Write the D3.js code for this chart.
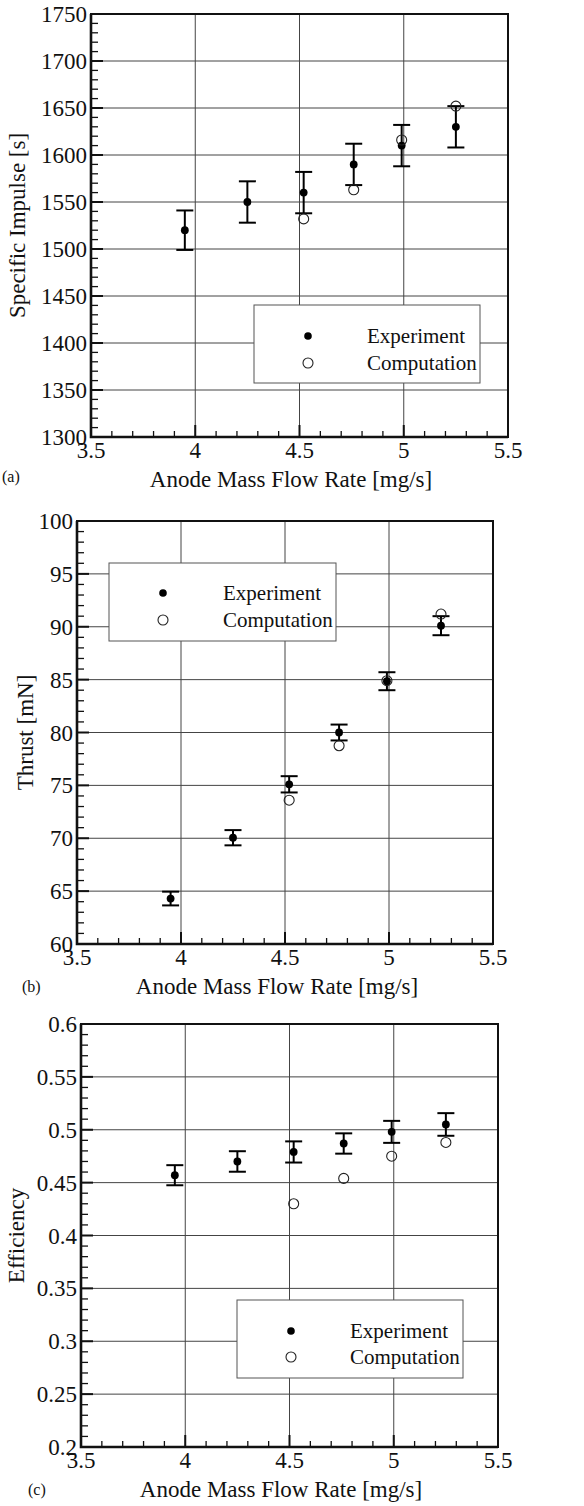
<!DOCTYPE html>
<html>
<head>
<meta charset="utf-8">
<script src="https://cdn.jsdelivr.net/npm/d3@7"></script>
<style>
  body { margin: 0; background: #fff; }
</style>
</head>
<body>
<div id="chart"></div>
<script>
// mass flow rates (mg/s)
const expFlow = [3.95, 4.25, 4.52, 4.76, 4.99, 5.25];
const compFlow = [4.52, 4.76, 4.99, 5.25];

// (a) specific impulse [s]
const ispExp = [1520, 1550, 1560, 1590, 1610, 1630];
const ispErr = [21, 22, 22, 22, 22, 22];
const ispComp = [1532, 1563, 1616, 1652];

// (b) thrust [mN]
const thrustExp = [64.3, 70.05, 75.1, 80.0, 84.85, 90.1];
const thrustErr = [0.65, 0.72, 0.77, 0.75, 0.85, 0.9];
const thrustComp = [73.6, 78.75, 84.9, 91.2];

// (c) efficiency
const effExp = [0.457, 0.470, 0.479, 0.487, 0.498, 0.505];
const effErr = [0.0095, 0.0097, 0.010, 0.0096, 0.0104, 0.0107];
const effComp = [0.430, 0.454, 0.475, 0.488];

const xTicks = [3.5, 4, 4.5, 5, 5.5];
const legendLabels = ["Experiment", "Computation"];

const FONT = "'Liberation Serif', 'Times New Roman', Times, serif";

const svg = d3.select("#chart").append("svg")
    .attr("width", 584)
    .attr("height", 1506)
    .attr("font-family", FONT);

const panels = [
  { tag: "(a)", yLabel: "Specific Impulse [s]", exp: ispExp, err: ispErr, comp: ispComp,
    yDomain: [1300, 1750], yMajor: 50, yMinor: 10, fmt: d => d,
    box: { left: 91, right: 508, top: 14, bottom: 437 },
    yLabelX: 25, tagPos: [2, 482],
    legend: { x0: 254, x1: 480, y0: 305, y1: 383, mx: 308, tx: 367, y: [336, 363] } },
  { tag: "(b)", yLabel: "Thrust [mN]", exp: thrustExp, err: thrustErr, comp: thrustComp,
    yDomain: [60, 100], yMajor: 5, yMinor: 1, fmt: d => d,
    box: { left: 77, right: 493, top: 521, bottom: 944 },
    yLabelX: 33, tagPos: [22, 992],
    legend: { x0: 109, x1: 336, y0: 563, y1: 641, mx: 163, tx: 223, y: [593, 620] } },
  { tag: "(c)", yLabel: "Efficiency", exp: effExp, err: effErr, comp: effComp,
    yDomain: [0.2, 0.6], yMajor: 0.05, yMinor: 0.01, fmt: d => +d.toFixed(2),
    box: { left: 81, right: 498, top: 1024, bottom: 1447 },
    yLabelX: 24, tagPos: [28, 1495],
    legend: { x0: 237, x1: 463, y0: 1300, y1: 1378, mx: 291, tx: 350, y: [1331, 1357] } }
];

function steps(lo, hi, step) {
  const n = Math.round((hi - lo) / step);
  return d3.range(n + 1).map(i => +(lo + i * step).toFixed(6));
}

function txt(sel) {
  return sel.attr("font-family", FONT).attr("fill", "#111");
}

panels.forEach(p => {
  const b = p.box;
  const x = d3.scaleLinear().domain([3.5, 5.5]).range([b.left, b.right]);
  const y = d3.scaleLinear().domain(p.yDomain).range([b.bottom, b.top]);
  const g = svg.append("g");

  const yMajors = steps(p.yDomain[0], p.yDomain[1], p.yMajor);
  const yMinors = steps(p.yDomain[0], p.yDomain[1], p.yMinor);
  const xMinors = steps(3.5, 5.5, 0.1);

  // grid
  g.selectAll(".gx").data(xTicks.slice(1, -1)).enter().append("line")
      .attr("x1", d => x(d)).attr("x2", d => x(d))
      .attr("y1", b.top).attr("y2", b.bottom)
      .attr("stroke", "#444").attr("stroke-width", 1);
  g.selectAll(".gy").data(yMajors.slice(1, -1)).enter().append("line")
      .attr("y1", d => y(d)).attr("y2", d => y(d))
      .attr("x1", b.left).attr("x2", b.right)
      .attr("stroke", "#444").attr("stroke-width", 1);

  // minor / major ticks, inside the frame
  g.selectAll(".ty").data(yMinors).enter().append("line")
      .attr("x1", b.left).attr("x2", d => b.left + (yMajors.includes(d) ? 12 : 7))
      .attr("y1", d => y(d)).attr("y2", d => y(d))
      .attr("stroke", "#111").attr("stroke-width", d => yMajors.includes(d) ? 2 : 1.3);
  g.selectAll(".tx").data(xMinors).enter().append("line")
      .attr("y1", b.bottom).attr("y2", d => b.bottom - (xTicks.includes(d) ? 12 : 6))
      .attr("x1", d => x(d)).attr("x2", d => x(d))
      .attr("stroke", "#111").attr("stroke-width", d => xTicks.includes(d) ? 2 : 1.3);

  // frame
  g.append("rect")
      .attr("x", b.left).attr("y", b.top)
      .attr("width", b.right - b.left).attr("height", b.bottom - b.top)
      .attr("fill", "none").attr("stroke", "#111").attr("stroke-width", 2);
  g.append("path")
      .attr("d", `M${b.left},${b.top}V${b.bottom}H${b.right}`)
      .attr("fill", "none").attr("stroke", "#111").attr("stroke-width", 2.6);

  // tick labels
  txt(g.selectAll(".ly").data(yMajors).enter().append("text"))
      .attr("x", b.left - 4).attr("y", d => y(d) + 8)
      .attr("text-anchor", "end").attr("font-size", 23)
      .text(d => p.fmt(d));
  txt(g.selectAll(".lx").data(xTicks).enter().append("text"))
      .attr("x", d => x(d)).attr("y", b.bottom + 21)
      .attr("text-anchor", "middle").attr("font-size", 23)
      .text(d => d);

  // axis titles
  txt(g.append("text"))
      .attr("x", b.left + 200).attr("y", b.bottom + 50)
      .attr("text-anchor", "middle").attr("font-size", 23)
      .text("Anode Mass Flow Rate [mg/s]");
  txt(g.append("text"))
      .attr("transform", `translate(${p.yLabelX},${(b.top + b.bottom) / 2}) rotate(-90)`)
      .attr("text-anchor", "middle").attr("font-size", 23)
      .text(p.yLabel);
  txt(g.append("text"))
      .attr("x", p.tagPos[0]).attr("y", p.tagPos[1])
      .attr("font-size", 16)
      .text(p.tag);

  // legend
  const L = p.legend;
  g.append("rect")
      .attr("x", L.x0).attr("y", L.y0)
      .attr("width", L.x1 - L.x0).attr("height", L.y1 - L.y0)
      .attr("fill", "#fff").attr("stroke", "#555").attr("stroke-width", 1);
  g.append("circle").attr("cx", L.mx).attr("cy", L.y[0]).attr("r", 3.8).attr("fill", "#000");
  g.append("circle").attr("cx", L.mx).attr("cy", L.y[1]).attr("r", 5)
      .attr("fill", "none").attr("stroke", "#222").attr("stroke-width", 1.1);
  txt(g.selectAll(".lt").data(legendLabels).enter().append("text"))
      .attr("x", L.tx).attr("y", (d, i) => L.y[i] + 7)
      .attr("font-size", 21)
      .text(d => d);

  // experiment: error bars + filled dots
  const expData = expFlow.map((f, i) => ({ f, v: p.exp[i], e: p.err[i] }));
  const eb = g.selectAll(".eb").data(expData).enter().append("g");
  eb.append("line")
      .attr("x1", d => x(d.f)).attr("x2", d => x(d.f))
      .attr("y1", d => y(d.v + d.e)).attr("y2", d => y(d.v - d.e))
      .attr("stroke", "#000").attr("stroke-width", 2);
  [1, -1].forEach(s => {
    eb.append("line")
        .attr("x1", d => x(d.f) - 8.5).attr("x2", d => x(d.f) + 8.5)
        .attr("y1", d => y(d.v + s * d.e)).attr("y2", d => y(d.v + s * d.e))
        .attr("stroke", "#000").attr("stroke-width", 2);
  });
  eb.append("circle")
      .attr("cx", d => x(d.f)).attr("cy", d => y(d.v))
      .attr("r", 3.9).attr("fill", "#000");

  // computation: open circles
  g.selectAll(".cp").data(compFlow.map((f, i) => ({ f, v: p.comp[i] }))).enter().append("circle")
      .attr("cx", d => x(d.f)).attr("cy", d => y(d.v))
      .attr("r", 5).attr("fill", "none").attr("stroke", "#222").attr("stroke-width", 1.1);
});
</script>
</body>
</html>
